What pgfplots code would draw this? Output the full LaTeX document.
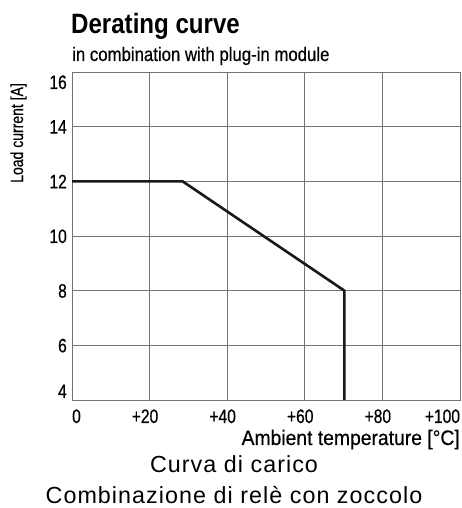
\documentclass[border=0pt]{standalone}
\usepackage{fontspec}
\setmainfont{Liberation Sans}
\newfontfamily\condT[FakeStretch=0.8,FakeBold=0.5]{Liberation Sans}
\newfontfamily\condS[FakeStretch=0.86,FakeBold=0.4]{Liberation Sans}
\newfontfamily\condA[FakeStretch=0.92,FakeBold=0.4]{Liberation Sans}
\newfontfamily\condbold[FakeStretch=0.86]{Liberation Sans Bold}
\newfontfamily\wide[LetterSpace=4.5]{Liberation Sans}
\usepackage{pgfplots}
\pgfplotsset{compat=1.18}
\begin{document}
\begin{tikzpicture}[x=1pt,y=1pt]
\useasboundingbox (0,0) rectangle (461,508);
\begin{axis}[
  at={(72pt,108pt)}, anchor=south west,
  scale only axis, width=388pt, height=328pt,
  xmin=0, xmax=100, ymin=4, ymax=16,
  xtick={0,20,40,60,80,100},
  ytick={4,6,8,10,12,14,16},
  xticklabels={\hspace*{9pt}0,\llap{+}20,\llap{+}40,\llap{+}60,\llap{+}80,\llap{+100}},
  yticklabels={\raisebox{9pt}{4},6,8,10,12,14,\raisebox{-10pt}{16}},
  major tick length=0pt,
  grid=major,
  grid style={draw=black!55, line width=0.9pt},
  axis line style={draw=black!55, line width=0.9pt},
  xticklabel style={font=\condT\fontsize{19.5}{19.5}\selectfont, anchor=base, yshift=-23pt, inner sep=0pt},
  yticklabel style={font=\condT\fontsize{19.5}{19.5}\selectfont, anchor=base east, yshift=-7pt, xshift=-5pt, inner sep=0pt},
  clip=false,
]
\addplot[black!90, line width=2.6pt, line join=miter] coordinates {(0,12) (28.5,12) (70.2,8) (70.2,4)};
\end{axis}
\node[anchor=base west, inner sep=0pt, font=\condbold\fontsize{28}{28}\selectfont] at (71,474.7) {Derating curve};
\node[anchor=base west, inner sep=0pt, font=\condS\fontsize{19.5}{19.5}\selectfont] at (72,447) {in combination with plug-in module};
\node[anchor=base west, rotate=90, inner sep=0pt, font=\condT\fontsize{17.5}{17.5}\selectfont] at (23,325) {Load current [A]};
\node[anchor=base east, inner sep=0pt, font=\condA\fontsize{21}{21}\selectfont] at (460,63) {Ambient temperature [°C]};
\node[anchor=base, inner sep=0pt, font=\wide\fontsize{23.3}{23.3}\selectfont] at (234,35) {Curva di carico};
\node[anchor=base, inner sep=0pt, font=\wide\fontsize{23.3}{23.3}\selectfont] at (234,5) {Combinazione di relè con zoccolo};
\end{tikzpicture}
\end{document}
